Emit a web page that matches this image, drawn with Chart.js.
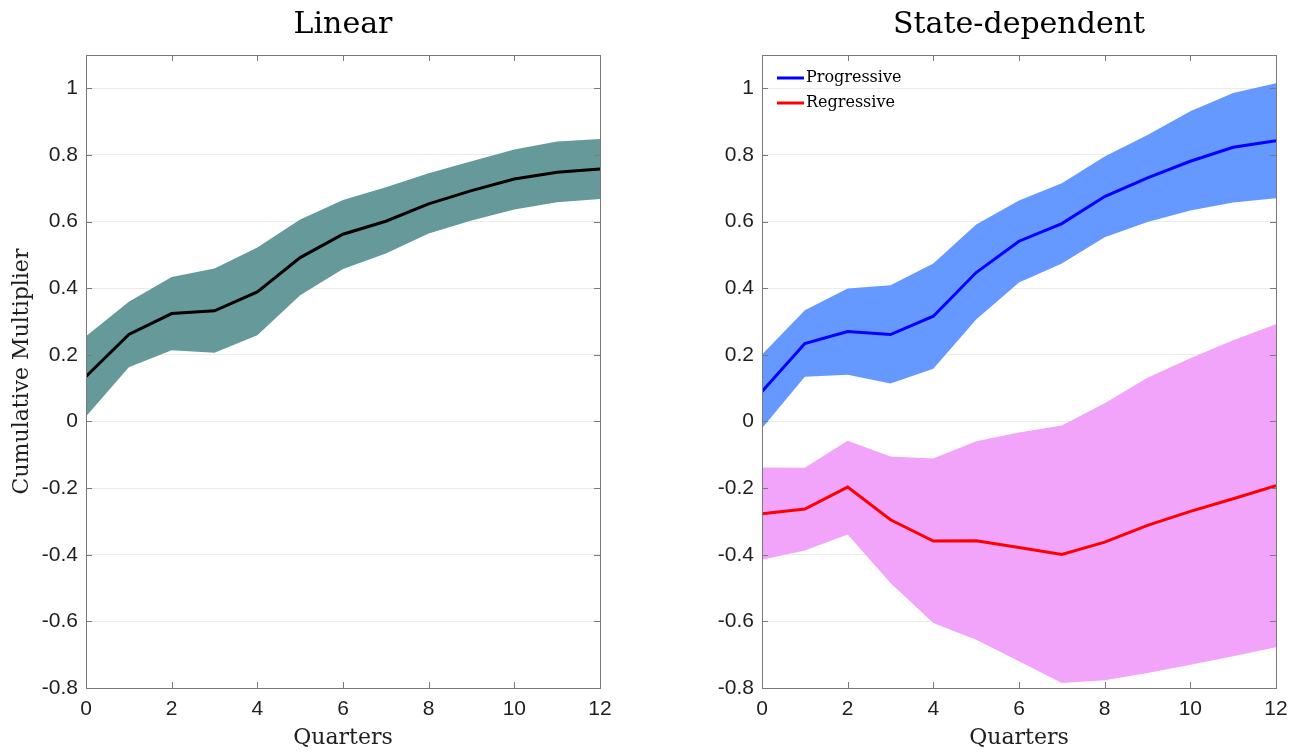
<!DOCTYPE html>
<html>
<head>
<meta charset="utf-8">
<script src="https://cdn.jsdelivr.net/npm/chart.js@4/dist/chart.umd.min.js"></script>
<style>
  html, body { margin: 0; padding: 0; background: #fff; }
  #wrap { position: relative; width: 1302px; height: 756px; }
  canvas { position: absolute; top: 0; }
  #linearChart { left: 0; }
  #stateChart { left: 651px; }
</style>
</head>
<body>
<div id="wrap">
  <canvas id="linearChart" width="651" height="756"></canvas>
  <canvas id="stateChart" width="651" height="756"></canvas>
</div>
<script>
// Horizon (quarters after the shock)
const quarters = [0, 1, 2, 3, 4, 5, 6, 7, 8, 9, 10, 11, 12];

// Linear model: cumulative multiplier with confidence band
const linearMean  = [0.135, 0.261, 0.324, 0.332, 0.389, 0.492, 0.562, 0.601, 0.653, 0.693, 0.728, 0.748, 0.758];
const linearUpper = [0.256, 0.359, 0.434, 0.459, 0.522, 0.606, 0.665, 0.703, 0.745, 0.781, 0.816, 0.840, 0.848];
const linearLower = [0.015, 0.163, 0.214, 0.206, 0.259, 0.379, 0.458, 0.504, 0.564, 0.603, 0.636, 0.658, 0.668];

// State-dependent model: progressive regime
const progMean  = [0.090, 0.234, 0.270, 0.261, 0.316, 0.447, 0.541, 0.594, 0.675, 0.731, 0.781, 0.823, 0.843];
const progUpper = [0.201, 0.334, 0.399, 0.409, 0.474, 0.591, 0.663, 0.715, 0.795, 0.860, 0.931, 0.986, 1.015];
const progLower = [-0.020, 0.134, 0.140, 0.114, 0.158, 0.306, 0.417, 0.474, 0.553, 0.599, 0.633, 0.657, 0.670];

// State-dependent model: regressive regime
const regMean  = [-0.277, -0.263, -0.197, -0.295, -0.359, -0.358, -0.378, -0.399, -0.362, -0.312, -0.270, -0.232, -0.193];
const regUpper = [-0.138, -0.139, -0.058, -0.105, -0.111, -0.059, -0.033, -0.012, 0.055, 0.131, 0.190, 0.244, 0.292];
const regLower = [-0.415, -0.387, -0.339, -0.485, -0.605, -0.655, -0.720, -0.785, -0.777, -0.755, -0.730, -0.705, -0.678];

// Axis settings
const xTicksStep = 2;
const yMin = -0.8, yMax = 1.1, yTickTop = 1.0, yStep = 0.2;

const AXIS_COLOR = '#7a7a7a';
const TEXT_COLOR = '#1f1f1f';
const GRID_COLOR = '#ebebeb';
const TICK_FONT = { family: "'Liberation Sans', Arial, sans-serif", size: 21 };
const SERIF = "'DejaVu Serif', serif";

const pts = arr => arr.map((v, i) => ({ x: quarters[i], y: v }));

function meanLine(label, values, color) {
  return { label, data: pts(values), borderColor: color, borderWidth: 3,
           pointRadius: 0, fill: false, tension: 0, showInLegend: true };
}
function band(upper, lower, color) {
  return [
    { data: pts(upper), fill: '+1', backgroundColor: color, borderWidth: 0, pointRadius: 0, tension: 0 },
    { data: pts(lower), fill: false, borderWidth: 0, pointRadius: 0, tension: 0 }
  ];
}

// Center the panel title over the plot area rather than the whole canvas
const titleOverArea = {
  id: 'titleOverArea',
  afterLayout(chart) {
    const t = chart.titleBlock;
    if (!t) return;
    t.left = chart.chartArea.left;
    t.right = chart.chartArea.right;
    t.width = t.right - t.left;
  }
};

// Box around the plot area with inward-pointing tick marks on all four sides
const frameTicks = {
  id: 'frameTicks',
  afterDatasetsDraw(chart) {
    const { ctx, chartArea: a, scales: { x, y } } = chart;
    const L = 6;
    ctx.save();
    ctx.strokeStyle = AXIS_COLOR;
    ctx.lineWidth = 1;
    ctx.beginPath();
    x.ticks.forEach(t => {
      const px = Math.round(x.getPixelForValue(t.value)) + 0.5;
      ctx.moveTo(px, a.bottom); ctx.lineTo(px, a.bottom - L);
      ctx.moveTo(px, a.top);    ctx.lineTo(px, a.top + L);
    });
    y.ticks.forEach(t => {
      const py = Math.round(y.getPixelForValue(t.value)) + 0.5;
      ctx.moveTo(a.left, py);  ctx.lineTo(a.left + L, py);
      ctx.moveTo(a.right, py); ctx.lineTo(a.right - L, py);
    });
    ctx.stroke();
    ctx.strokeRect(Math.round(a.left) + 0.5, Math.round(a.top) + 0.5,
                   Math.round(a.right - a.left), Math.round(a.bottom - a.top));
    ctx.restore();
  }
};

// Legend drawn inside the top-left corner of the plot area
const innerLegend = {
  id: 'innerLegend',
  afterDraw(chart) {
    if (!chart.options.plugins.innerLegend || !chart.options.plugins.innerLegend.show) return;
    const items = chart.data.datasets.filter(d => d.showInLegend);
    const { ctx, chartArea: a } = chart;
    ctx.save();
    ctx.font = "16px " + SERIF;
    ctx.textBaseline = 'middle';
    ctx.textAlign = 'left';
    items.forEach((d, i) => {
      const yy = a.top + 23 + i * 25;
      ctx.strokeStyle = d.borderColor;
      ctx.lineWidth = 3;
      ctx.beginPath();
      ctx.moveTo(a.left + 15, yy);
      ctx.lineTo(a.left + 42, yy);
      ctx.stroke();
      ctx.fillStyle = '#000';
      ctx.fillText(d.label, a.left + 44, yy);
    });
    ctx.restore();
  }
};

function makeOptions(title, yAxisWidth, rightPad, yTitle, legend) {
  return {
    responsive: false,
    animation: false,
    layout: { padding: { left: 0, right: rightPad, top: 0, bottom: 0 } },
    plugins: {
      legend: { display: false },
      tooltip: { enabled: false },
      title: { display: true, text: title, color: '#000',
               font: { family: SERIF, size: 30, weight: 'normal' },
               padding: { top: 7, bottom: 12 } },
      innerLegend: { show: legend }
    },
    scales: {
      x: {
        type: 'linear', min: quarters[0], max: quarters[quarters.length - 1],
        ticks: { stepSize: xTicksStep, font: TICK_FONT, color: TEXT_COLOR, padding: 9, maxRotation: 0 },
        grid: { display: false, drawTicks: false },
        border: { display: false },
        title: { display: true, text: 'Quarters', color: TEXT_COLOR,
                 font: { family: SERIF, size: 22 }, padding: { top: 0, bottom: 5 } },
        afterFit: s => { s.height = 68; }
      },
      y: {
        type: 'linear', min: yMin, max: yMax,
        afterBuildTicks: s => { s.ticks = s.ticks.filter(t => t.value <= yTickTop + 1e-6); },
        ticks: { stepSize: yStep, font: TICK_FONT, color: TEXT_COLOR, padding: 8,
                 callback: v => String(Number(v.toFixed(1))) },
        grid: { color: GRID_COLOR, lineWidth: 1, drawTicks: false },
        border: { display: false },
        title: { display: !!yTitle, text: yTitle || '', color: TEXT_COLOR,
                 font: { family: SERIF, size: 22 }, padding: { top: 9, bottom: 0 } },
        afterFit: s => { s.width = yAxisWidth; }
      }
    }
  };
}

new Chart(document.getElementById('linearChart'), {
  type: 'line',
  data: {
    datasets: [
      meanLine('Linear', linearMean, '#000000'),
      ...band(linearUpper, linearLower, 'rgb(102,153,153)')
    ]
  },
  options: makeOptions('Linear', 86, 51, 'Cumulative Multiplier', false),
  plugins: [titleOverArea, frameTicks, innerLegend]
});

new Chart(document.getElementById('stateChart'), {
  type: 'line',
  data: {
    datasets: [
      meanLine('Progressive', progMean, '#0000ff'),
      meanLine('Regressive', regMean, '#ff0000'),
      ...band(progUpper, progLower, 'rgb(102,153,255)'),
      ...band(regUpper, regLower, 'rgb(241,164,250)')
    ]
  },
  options: makeOptions('State-dependent', 111, 26, null, true),
  plugins: [titleOverArea, frameTicks, innerLegend]
});
</script>
</body>
</html>
